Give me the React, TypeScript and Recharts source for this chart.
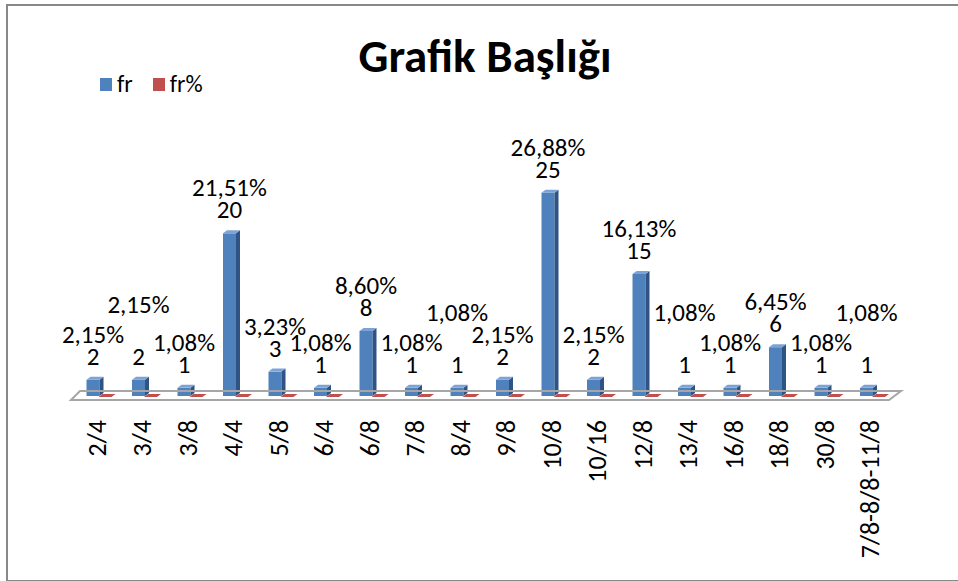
import { Bar, BarChart, LabelList, ReferenceLine, XAxis, YAxis } from "recharts";

const categories = [
  "2/4", "3/4", "3/8", "4/4", "5/8", "6/4", "6/8", "7/8", "8/4",
  "9/8", "10/8", "10/16", "12/8", "13/4", "16/8", "18/8", "30/8", "7/8-8/8-11/8",
];
const frValues = [2, 2, 1, 20, 3, 1, 8, 1, 1, 2, 25, 2, 15, 1, 1, 6, 1, 1];
const frPercent = [
  2.15, 2.15, 1.08, 21.51, 3.23, 1.08, 8.6, 1.08, 1.08,
  2.15, 26.88, 2.15, 16.13, 1.08, 1.08, 6.45, 1.08, 1.08,
];
const seriesNames = ["fr", "fr%"];

const data = categories.map((cat, i) => ({ cat, fr: frValues[i], pct: frPercent[i] / 100 }));

// neighbouring % labels at about the same height collide, so one of the pair is lifted
// (the one whose other neighbour won't get in the way)
const liftPct: boolean[] = frValues.map(() => false);
const inZone = (d: number) => d > 1 && d < 6.4;
for (let i = 1; i < frValues.length; i++) {
  if (liftPct[i - 1] || Math.abs(frValues[i] - frValues[i - 1]) >= 2) continue;
  const nextD = i + 1 < frValues.length ? frValues[i + 1] - frValues[i] : 0;
  const prevD = i - 2 >= 0 ? frValues[i - 2] - frValues[i - 1] : 0;
  if (inZone(nextD) && !inZone(prevD)) liftPct[i - 1] = true;
  else liftPct[i] = true;
}

const FONT = "Calibri, Carlito, Lato, sans-serif";
const BLUE = "#4F81BD";
const RED = "#C0504D";

const fmtPct = (v: number) => v.toFixed(2).replace(".", ",") + "%";

function BlueColumn(props: any) {
  const { x, y, width, height } = props;
  const fx = x + 2.5;
  const d = 4;
  const u = 3;
  return (
    <g>
      <rect x={fx} y={y} width={width} height={height} fill={BLUE} />
      <polygon
        points={`${fx + width},${y} ${fx + width + d},${y - u} ${fx + width + d},${y + height - u} ${fx + width},${y + height}`}
        fill="#2F5383"
      />
      <polygon
        points={`${fx},${y} ${fx + width},${y} ${fx + width + d},${y - u} ${fx + d},${y - u}`}
        fill="#7DA3D6"
      />
    </g>
  );
}

function RedColumn(props: any) {
  const { x, width, y, height } = props;
  const base = y + height;
  const fx = x + 1.5;
  return (
    <polygon
      points={`${fx},${base + 1} ${fx + width},${base + 1} ${fx + width + 4},${base - 2} ${fx + 4},${base - 2}`}
      fill={RED}
    />
  );
}

function Floor(props: any) {
  const { x1, y1, x2 } = props;
  return (
    <polygon
      points={`${x1 + 6},${y1 - 5} ${x2 + 8},${y1 - 5} ${x2 - 4},${y1 + 4} ${x1 - 3},${y1 + 4}`}
      fill="none"
      stroke="#A6A6A6"
      strokeWidth={2}
    />
  );
}

function ValueLabels(props: any) {
  const { x, y, width, index } = props;
  const cx = x + 2.5 + width / 2;
  const base = y - 15;
  const pctBase = base - 22 - (liftPct[index] ? 30 : 0);
  return (
    <g fontFamily={FONT} fontSize={25} fill="#000" textAnchor="middle">
      <text x={cx} y={base}>{frValues[index]}</text>
      <text x={cx} y={pctBase}>{fmtPct(frPercent[index])}</text>
    </g>
  );
}

function CategoryTick(props: any) {
  const { x, y, payload } = props;
  return (
    <text
      transform={`translate(${x},${y + 24}) rotate(-90)`}
      textAnchor="end"
      dy="0.35em"
      fontFamily={FONT}
      fontSize={26}
      fill="#000"
    >
      {payload.value}
    </text>
  );
}

export default function App() {
  const colors = [BLUE, RED];
  return (
    <div style={{ position: "fixed", left: 0, top: 0, width: 958, height: 581, overflow: "hidden", background: "#fff" }}>
      <div
        style={{
          position: "absolute",
          left: 6,
          top: 4,
          width: 970,
          height: 574,
          borderTop: "2px solid #888",
          borderLeft: "2px solid #888",
          borderBottom: "2px solid #888",
        }}
      />
      <div
        style={{
          position: "absolute",
          left: 0,
          width: 970,
          top: 33,
          textAlign: "center",
          fontFamily: FONT,
          fontWeight: 700,
          fontSize: 47,
          lineHeight: "47px",
        }}
      >
        Grafik Başlığı
      </div>
      <div
        style={{
          position: "absolute",
          left: 100,
          top: 71,
          display: "flex",
          alignItems: "center",
          fontFamily: FONT,
          fontSize: 24,
          lineHeight: "26px",
        }}
      >
        {seriesNames.map((name, i) => (
          <span key={name} style={{ display: "flex", alignItems: "center", marginRight: 20 }}>
            <span style={{ width: 12, height: 13, background: colors[i], marginRight: 5, display: "inline-block" }} />
            {name}
          </span>
        ))}
      </div>
      <div style={{ position: "absolute", left: 0, top: 0 }}>
        <BarChart width={958} height={581} data={data} margin={{ top: 152, right: 65, bottom: 15, left: 74 }} barSize={13} barGap={0}>
          <XAxis
            dataKey="cat"
            height={170}
            interval={0}
            axisLine={false}
            tickLine={false}
            tickSize={0}
            tickMargin={0}
            tick={<CategoryTick />}
          />
          <YAxis hide domain={[0, 30]} />
          <ReferenceLine y={0} shape={<Floor />} ifOverflow="visible" />
          <Bar dataKey="fr" name="fr" fill={BLUE} shape={<BlueColumn />} isAnimationActive={false}>
            <LabelList dataKey="fr" content={<ValueLabels />} />
          </Bar>
          <Bar dataKey="pct" name="fr%" fill={RED} shape={<RedColumn />} isAnimationActive={false} />
        </BarChart>
      </div>
    </div>
  );
}
